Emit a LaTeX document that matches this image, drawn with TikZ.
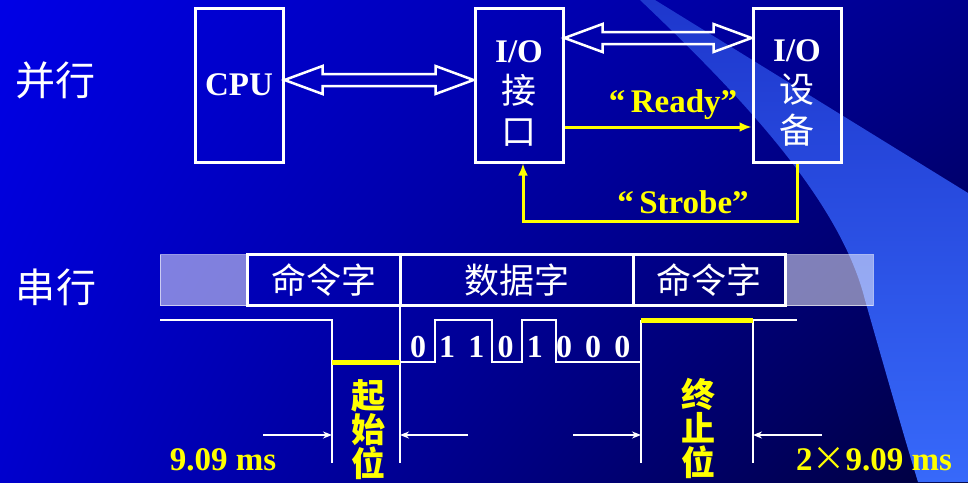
\documentclass[tikz,border=0pt]{standalone}
\usepackage{fontspec}
\setmainfont{Liberation Serif}
\newfontfamily\cjk{Noto Sans CJK SC}
\usetikzlibrary{calc,arrows.meta,shadings}
\definecolor{bgtl}{RGB}{0,0,230}
\definecolor{bgtr}{RGB}{0,0,140}
\definecolor{bgbl}{RGB}{0,0,205}
\definecolor{bgbr}{RGB}{0,0,60}
\definecolor{wedgetop}{RGB}{30,55,205}
\definecolor{wedgebot}{RGB}{55,105,250}
\definecolor{sigyellow}{RGB}{255,255,0}
\newcommand\busarrow[2]{\draw[bus] (#1) -- ($(#1)+(38,-14)$) -- ($(#1)+(38,-6)$) -- ($(#2)+(-38,-6)$) -- ($(#2)+(-38,-14)$) -- (#2) -- ($(#2)+(-38,14)$) -- ($(#2)+(-38,6)$) -- ($(#1)+(38,6)$) -- ($(#1)+(38,14)$) -- cycle;}
\begin{document}
\begin{tikzpicture}[x=1pt,y=-1pt,
	unit/.style={draw=white,line width=3pt,minimum width=88pt,minimum height=154pt,inner sep=0pt,text=white,align=center,font=\bfseries\fontsize{33}{41}\selectfont},
	field/.style={draw=white,line width=3pt,outer sep=0pt,minimum height=51pt,inner sep=0pt,text=white,font=\cjk\fontsize{35}{35}\selectfont},
	ghost/.style={draw=white,draw opacity=0.6,line width=1pt,fill=white,fill opacity=0.5,minimum height=51pt,inner sep=0pt},
	side/.style={text=white,font=\cjk\fontsize{40}{40}\selectfont},
	bus/.style={draw=white,line width=2.5pt},
	sig/.style={draw=sigyellow,line width=3pt,-{Latex[length=12pt,width=10pt]}},
	tag/.style={text=sigyellow,anchor=base,font=\bfseries\fontsize{33}{33}\selectfont},
	bit/.style={text=white,anchor=base,font=\bfseries\fontsize{32}{32}\selectfont},
	vtag/.style={text=sigyellow,align=center,font=\cjk\bfseries\fontsize{34}{34}\selectfont},
	wave/.style={draw=white,line width=2.8pt},
	hilite/.style={draw=sigyellow,line width=5pt},
	dim/.style={draw=white,line width=2pt,-{Stealth[length=9pt,width=7pt]}}]
	\useasboundingbox (0,0) rectangle (968,482);
	\shade[upper left=bgtl,upper right=bgtr,lower left=bgbl,lower right=bgbr] (0,0) rectangle (968,482);
	\shade[top color=wedgetop,bottom color=wedgebot] (640,0) .. controls (740,95) and (840,200) .. (865,300) .. controls (885,370) and (905,440) .. (918,482) -- (968,482) -- (968,193) -- (655,0) -- cycle;
	\node[side] (par) at (55,80) {并行};
	\node[side] (ser) at (56,287) {串行};
	\node[unit] (cpu) at (239,85) {CPU};
	\node[unit] (ioif) at (519,85) {\rule{0pt}{38pt}I/O\\{\cjk\mdseries\fontsize{35}{41}\selectfont 接}\\{\cjk\mdseries\fontsize{35}{41}\selectfont 口}};
	\node[unit] (iodev) at (797,85) {\rule{0pt}{38pt}I/O\\{\cjk\mdseries\fontsize{35}{41}\selectfont 设}\\{\cjk\mdseries\fontsize{35}{41}\selectfont 备}};
	\coordinate (busA) at ([yshift=5pt]cpu.east);
	\coordinate (busB) at ([yshift=5pt]ioif.west);
	\coordinate (busC) at ([yshift=47pt]ioif.east);
	\coordinate (busD) at ([yshift=47pt]iodev.west);
	\busarrow{busA}{busB}
	\busarrow{busC}{busD}
	\draw[sig] ([yshift=-42pt]ioif.east) -- ([yshift=-42pt]iodev.west);
	\node[tag] (rdy) at (673,112) {“\,Ready”};
	\draw[sig] (iodev.south) -- ++(0,58) -| ([xshift=4pt]ioif.south);
	\node[tag] (stb) at (683,213) {“\,Strobe”};
	\node[ghost,minimum width=87pt] (padL) at (203.5,280) {};
	\node[ghost,minimum width=88pt] (padR) at (829,280) {};
	\node[field,minimum width=153pt] (cmdA) at (323.5,280) {命令字};
	\node[field,minimum width=233pt] (dat) at (516.5,280) {数据字};
	\node[field,minimum width=152pt] (cmdB) at (709,280) {命令字};
	\draw[wave] (160,320) -| (332,463);
	\draw[wave] (cmdA.south east) -- (400,463);
	\draw[wave] (400,362) -| (435,320) -| (492,362) -| (522,320) -| (556,362) -| (641,463);
	\draw[wave] (641,320) -- (641,362);
	\draw[wave] (641,320) -- (797,320);
	\draw[wave] (753,320) -- (753,463);
	\draw[hilite] (332,362) -- (400,362);
	\draw[hilite] (641,320) -- (753,320);
	\foreach \b [count=\i from 0] in {0,1,1,0,1,0,0,0}
		\node[bit] (bit\i) at (418+29.2*\i,357) {\b};
	\draw[dim] (263,435) -- (332,435);
	\draw[dim] (468,435) -- (400,435);
	\draw[dim] (573,435) -- (641,435);
	\draw[dim] (822,435) -- (753,435);
	\node[vtag] (startb) at (368,430) {起\\始\\位};
	\node[vtag] (stopb) at (698,428) {终\\止\\位};
	\node[tag] (tone) at (223,470) {9.09 ms};
	\node[tag] (ttwo) at (874,470) {2{\cjk\mdseries ×}9.09 ms};
\end{tikzpicture}
\end{document}
